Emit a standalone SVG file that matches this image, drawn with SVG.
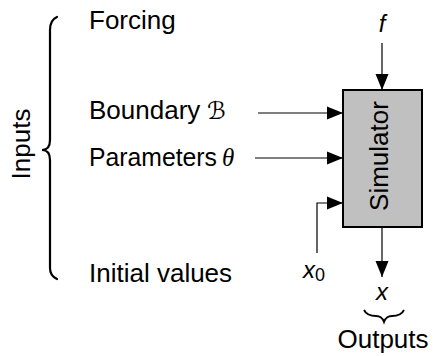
<svg xmlns="http://www.w3.org/2000/svg" width="433" height="356" viewBox="0 0 433 356">
<style>
.t{font-family:"Liberation Sans",Arial,sans-serif;font-size:26px;fill:#000}
.m{font-family:"Liberation Sans",Arial,sans-serif;font-style:italic;font-size:24px;fill:#000}
.c{fill:none;stroke:#000;stroke-width:1.2}
.br{fill:none;stroke:#000;stroke-width:2.2;stroke-linecap:round}
</style>
<defs>
<marker id="ah" markerUnits="userSpaceOnUse" markerWidth="17" markerHeight="14" refX="16" refY="7" orient="auto">
<path d="M0,0.5 L16,7 L0,13.5 Z" fill="#000"/>
</marker>
</defs>
<g id="inputs-brace">
<path class="br" d="M57,17 Q50,20 50,30 L50,140 Q50,150 42,150 Q50,150 50,160 L50,268 Q50,276 57,279"/>
<text class="t" transform="translate(30,144) rotate(-90)" text-anchor="middle">Inputs</text>
</g>
<g id="forcing"><text class="t" x="89" y="29">Forcing</text></g>
<g id="boundary"><text class="t" x="89" y="119">Boundary</text>
<text x="207" y="119" style="font-family:'DejaVu Sans',sans-serif;font-size:24px">ℬ</text></g>
<g id="parameters"><text class="t" x="89" y="166" textLength="128" lengthAdjust="spacingAndGlyphs">Parameters</text>
<text x="222" y="166" style="font-family:'Liberation Serif',serif;font-style:italic;font-size:25px">θ</text></g>
<g id="initial"><text class="t" x="89" y="282">Initial values</text></g>
<g id="f-label"><text class="m" x="382" y="32" text-anchor="middle">f</text></g>
<g id="x0-label"><text class="m" x="303" y="278">x<tspan font-style="normal" font-size="18" dy="3">0</tspan></text></g>
<g id="simulator">
<rect x="343" y="90" width="79" height="137" fill="#c0c0c0" stroke="#000" stroke-width="2"/>
<text class="t" transform="translate(388,156) rotate(-90)" text-anchor="middle">Simulator</text>
</g>
<g id="x-label"><text class="m" x="382" y="300" text-anchor="middle">x</text></g>
<g id="outputs">
<path fill="none" stroke="#000" stroke-width="1.8" d="M364,310 Q367,316 376,316 Q382,316 384,322 Q386,316 392,316 Q401,316 404,310"/>
<text class="t" x="383" y="348" text-anchor="middle">Outputs</text>
</g>
<g id="connectors">
<path class="c" d="M382,43 L382,90" marker-end="url(#ah)"/>
<path class="c" d="M258,113 L343,113" marker-end="url(#ah)"/>
<path class="c" d="M255,158 L343,158" marker-end="url(#ah)"/>
<path class="c" d="M317,253 L317,203 L343,203" marker-end="url(#ah)"/>
<path class="c" d="M382,227 L382,277" marker-end="url(#ah)"/>
</g>
</svg>
